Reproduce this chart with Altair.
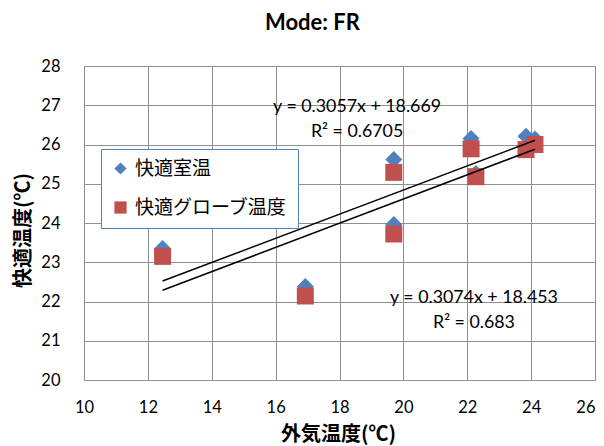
import altair as alt
import pandas as pd

# ---- data ----
outdoor_temp = [12.46, 16.93, 19.70, 19.70, 22.12, 22.27, 23.84, 24.12]
comfort_room = [23.35, 22.38, 25.62, 23.96, 26.15, 25.26, 26.21, 26.14]
comfort_globe = [23.15, 22.14, 25.29, 23.72, 25.89, 25.18, 25.87, 26.00]
series_names = ["快適室温", "快適グローブ温度"]
x_ticks = [10, 12, 14, 16, 18, 20, 22, 24, 26]
y_ticks = [20, 21, 22, 23, 24, 25, 26, 27, 28]
eq_text = ["y = 0.3057x + 18.669", "R² = 0.6705", "y = 0.3074x + 18.453", "R² = 0.683"]
eq_x = [18.55, 18.55, 22.21, 22.21]
eq_y = [26.96, 26.32, 22.10, 21.44]

rows = []
for xv, yv in zip(outdoor_temp, comfort_room):
    rows.append({"series": series_names[0], "x": xv, "y": yv})
for xv, yv in zip(outdoor_temp, comfort_globe):
    rows.append({"series": series_names[1], "x": xv, "y": yv})
df = pd.DataFrame(rows)
df_eq = pd.DataFrame({"x": eq_x, "y": eq_y, "text": eq_text})

LAT = "Lato, 'Noto Sans CJK JP', sans-serif"
CJK = "'Noto Sans CJK JP', sans-serif"

xscale = alt.Scale(domain=[10, 26], nice=False, zero=False)
yscale = alt.Scale(domain=[20, 28], nice=False, zero=False)

xaxis = alt.Axis(values=x_ticks, tickCount=20, format="d", grid=True, gridColor="#8f8f8f", gridWidth=1,
                 domain=False, ticks=False, labelFont=LAT, labelFontSize=16.5,
                 labelColor="#000", labelPadding=19, labelFlush=False, labelOverlap=False,
                 labelAlign=alt.ExprRef(expr="datum.value == 26 ? 'right' : 'center'"),
                 title="外気温度(℃)",
                 titleFont=CJK, titleFontSize=20, titleFontWeight="bold",
                 titleColor="#000", titleX=254, titleY=54, titleBaseline="middle")
yaxis = alt.Axis(values=y_ticks, tickCount=20, format="d", grid=True, gridColor="#8f8f8f", gridWidth=1,
                 domain=False, ticks=False, labelFont=LAT, labelFontSize=16.5,
                 labelColor="#000", labelPadding=24, labelFlush=False, labelOverlap=False,
                 title="快適温度(℃)",
                 titleFont=CJK, titleFontSize=20, titleFontWeight="bold",
                 titleColor="#000", titleX=-61, titleY=164, titleBaseline="middle",
                 titleAngle=-90)

legend = alt.Legend(title=None, orient="none", legendX=17, legendY=83,
                    fillColor="white", strokeColor="#4f81bd",
                    padding=10, labelFont=CJK, labelFontSize=19, labelColor="#000",
                    symbolSize=150, rowPadding=19, labelOffset=5, labelLimit=300,
                    symbolStrokeWidth=0)

points = alt.Chart(df).mark_point(filled=True, size=289, opacity=1, strokeWidth=0).encode(
    x=alt.X("x:Q", scale=xscale, axis=xaxis),
    y=alt.Y("y:Q", scale=yscale, axis=yaxis),
    color=alt.Color("series:N", scale=alt.Scale(domain=series_names, range=["#4f81bd", "#c0504d"]),
                    legend=legend),
    shape=alt.Shape("series:N", scale=alt.Scale(domain=series_names, range=["diamond", "square"]),
                    legend=legend),
)

trend = alt.Chart(df).transform_regression("x", "y", groupby=["series"]).mark_line(
    color="black", strokeWidth=1.5).encode(
    x=alt.X("x:Q", scale=xscale, axis=xaxis),
    y=alt.Y("y:Q", scale=yscale, axis=yaxis),
    detail="series:N",
)

eqs = alt.Chart(df_eq).mark_text(font=LAT, fontSize=17.8, color="#000").encode(
    x=alt.X("x:Q", scale=xscale, axis=xaxis),
    y=alt.Y("y:Q", scale=yscale, axis=yaxis),
    text="text:N",
)

chart = alt.layer(points, trend, eqs).properties(
    width=511, height=314,
    title=alt.TitleParams("Mode: FR", font=LAT, fontSize=22, fontWeight="bold",
                          color="#000", anchor="middle", dx=-27, offset=23),
    autosize=alt.AutoSizeParams(type="none"),
    padding={"left": 76, "top": 58, "right": 1, "bottom": 66},
).configure_view(stroke="#8f8f8f", strokeWidth=1).configure_legend(
    strokeWidth=1.2, cornerRadius=0,
).configure(background="white")

chart.save("out.html", embed_options={"renderer": "svg", "actions": False})
